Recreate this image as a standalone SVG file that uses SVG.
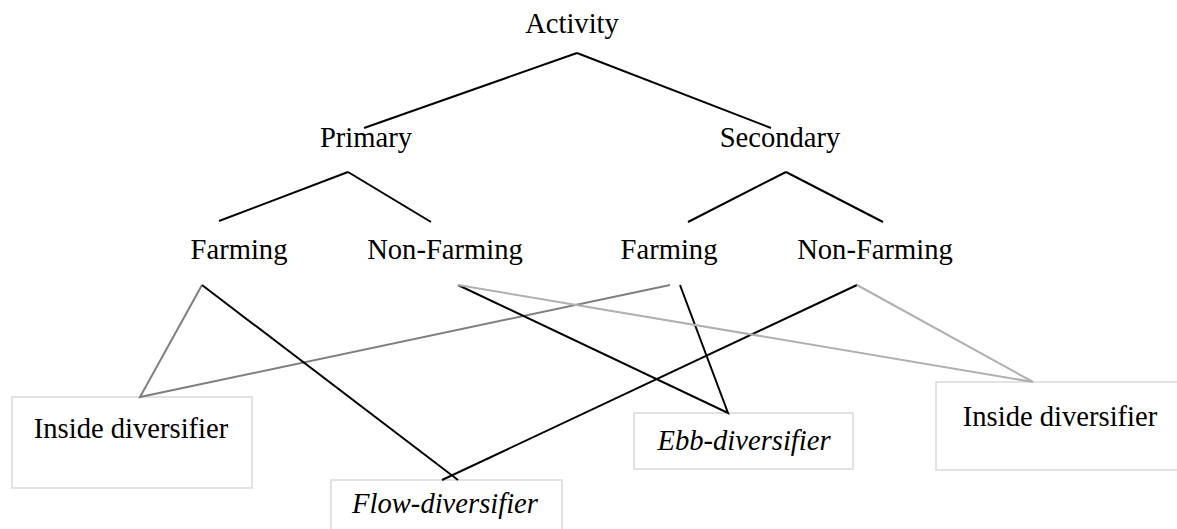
<svg xmlns="http://www.w3.org/2000/svg" width="1177" height="529" viewBox="0 0 1177 529">
<style>
.t{font-family:"Liberation Serif","Times New Roman",serif;font-size:28.6px;fill:#000;text-anchor:middle}
.i{font-style:italic}
.box{fill:#fff;stroke:#d9d9d9;stroke-width:1.5}
.k{stroke:#000;stroke-width:2;fill:none}
.g{stroke:#7f7f7f;stroke-width:2;fill:none}
.lg{stroke:#b0b0b0;stroke-width:2;fill:none}
</style>
<rect width="1177" height="529" fill="#fff"/>
<g id="n-activity"><text class="t" x="572" y="33">Activity</text></g>
<g id="n-primary"><text class="t" x="366" y="147">Primary</text></g>
<g id="n-secondary"><text class="t" x="780" y="147">Secondary</text></g>
<g id="n-pfarm"><text class="t" x="239" y="259">Farming</text></g>
<g id="n-pnonfarm"><text class="t" x="445" y="259">Non-Farming</text></g>
<g id="n-sfarm"><text class="t" x="669" y="259">Farming</text></g>
<g id="n-snonfarm"><text class="t" x="875" y="259">Non-Farming</text></g>
<g id="n-inside1"><rect class="box" x="12" y="397" width="240" height="91"/><text class="t" x="131" y="438">Inside diversifier</text></g>
<g id="n-flow"><rect class="box" x="331" y="480" width="231" height="60"/><text class="t i" x="445" y="513">Flow-diversifier</text></g>
<g id="n-ebb"><rect class="box" x="634" y="413" width="219" height="56"/><text class="t i" x="744" y="450">Ebb-diversifier</text></g>
<g id="n-inside2"><rect class="box" x="936" y="382" width="250" height="88"/><text class="t" x="1060" y="426">Inside diversifier</text></g>
<g id="connectors">
<line class="k" x1="577" y1="53" x2="364" y2="128"/>
<line class="k" x1="577" y1="53" x2="771" y2="128"/>
<line class="k" x1="348" y1="172" x2="219" y2="221"/>
<line class="k" x1="348" y1="172" x2="431" y2="222"/>
<line class="k" x1="786" y1="172" x2="688" y2="222"/>
<line class="k" x1="786" y1="172" x2="883" y2="222"/>
<polyline class="g" points="670,285 140,397 202,285"/>
<line class="k" x1="202" y1="285" x2="458" y2="480"/>
<line class="k" x1="857" y1="285" x2="442" y2="480"/>
<polyline class="k" points="458,285 728,413 680,285"/>
<polyline class="lg" points="458,285 1033,382 857,285"/>
</g>
</svg>
